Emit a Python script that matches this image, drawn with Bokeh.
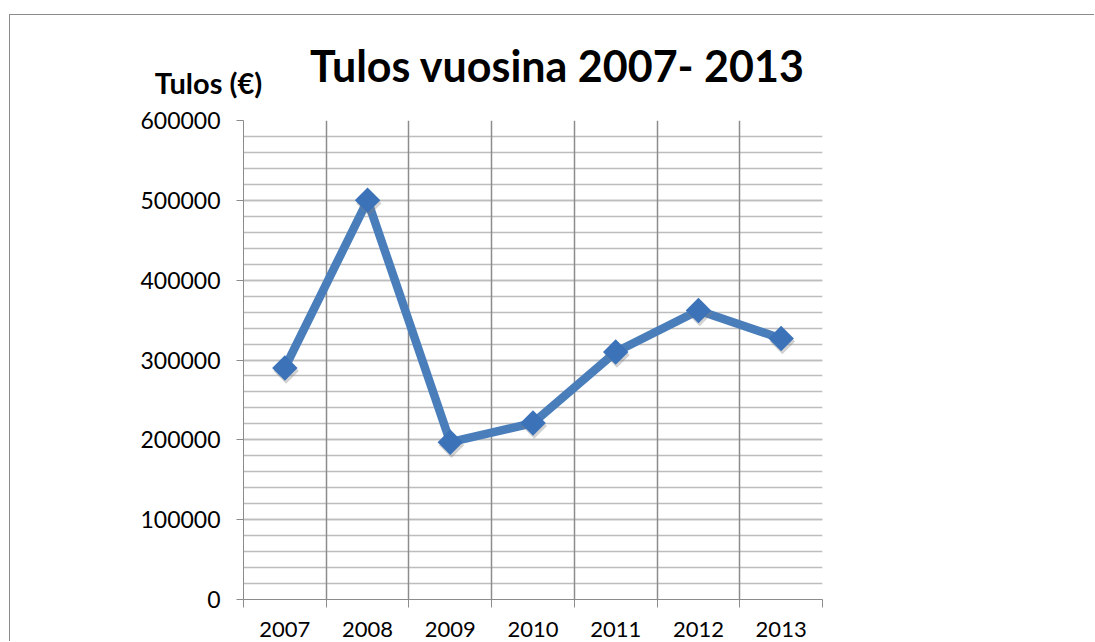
from bokeh.plotting import figure
from bokeh.models import (FixedTicker, Grid, Label, ColumnDataSource, Range1d, InlineStyleSheet)
from bokeh.transform import dodge
from bokeh.embed import file_html
from bokeh.resources import INLINE
import math

years = ["2007", "2008", "2009", "2010", "2011", "2012", "2013"]
tulos = [290000, 500000, 197000, 221000, 310000, 362000, 327000]
y_ticks = [0, 100000, 200000, 300000, 400000, 500000, 600000]
y_minor = list(range(0, 600001, 20000))
title_text = "Tulos vuosina 2007- 2013"
y_title = "Tulos (€)"

FONT = "Lato"
xs = [i + 0.5 for i in range(len(years))]
src = ColumnDataSource(dict(x=xs, y=tulos))

p = figure(width=1095, height=642, output_backend="svg", toolbar_location=None,
           x_range=Range1d(0, len(years)), y_range=Range1d(0, 600000),
           min_border_left=243, min_border_right=273, min_border_top=120, min_border_bottom=43)
p.outline_line_color = None
p.background_fill_color = "white"
p.border_fill_color = "white"

xt = FixedTicker(ticks=xs, minor_ticks=list(range(len(years) + 1)))
p.xaxis.ticker = xt
p.xaxis.major_label_overrides = {x: y for x, y in zip(xs, years)}
p.xaxis.major_tick_line_color = None
p.xaxis.major_tick_out = 0
p.xaxis.major_tick_in = 0
p.xaxis.minor_tick_out = 8
p.xaxis.minor_tick_in = 0
p.xaxis.minor_tick_line_color = "#8c8c8c"
p.xaxis.axis_line_color = "#8c8c8c"
p.xaxis.major_label_standoff = 14
p.xaxis.major_label_text_font = FONT
p.xaxis.major_label_text_font_size = "22px"
p.xaxis.major_label_text_color = "black"

p.yaxis.ticker = FixedTicker(ticks=y_ticks, minor_ticks=y_minor)
p.yaxis.major_tick_out = 7
p.yaxis.major_tick_in = 0
p.yaxis.minor_tick_out = 0
p.yaxis.minor_tick_in = 0
p.yaxis.major_tick_line_color = "#8c8c8c"
p.yaxis.axis_line_color = "#8c8c8c"
p.yaxis.major_label_standoff = 16
p.yaxis.major_label_text_font = FONT
p.yaxis.major_label_text_font_size = "23px"
p.yaxis.major_label_text_color = "black"
p.yaxis.formatter.use_scientific = False

p.xgrid.grid_line_color = None
p.ygrid.grid_line_color = "#bdbdbd"
p.ygrid.minor_grid_line_color = "#bdbdbd"
p.ygrid.grid_line_width = 1.5
p.ygrid.minor_grid_line_width = 1.5
vgrid = Grid(dimension=0, ticker=FixedTicker(ticks=list(range(len(years) + 1))),
             grid_line_color="#8c8c8c", grid_line_width=1.5)
p.add_layout(vgrid)

p.line("x", "y", source=src, line_color="#4a7ebb", line_width=8.5)
p.scatter(dodge("x", 0.015), dodge("y", -3800), source=src, marker="square", angle=math.pi / 4, size=18,
          fill_color="#7f7f7f", fill_alpha=0.35, line_color=None)
p.scatter("x", "y", source=src, marker="square", angle=math.pi / 4, size=18,
          fill_color="#3c72b8", line_color=None)

# titles as labels placed in the top side panel (side-panel annotations are not clipped to the frame)
p.add_layout(Label(x=3.796, y=600000, y_offset=55, text=title_text, text_align="center",
                   text_baseline="alphabetic", text_font=FONT, text_font_style="bold",
                   text_font_size="43px", text_color="black"), "above")
p.add_layout(Label(x=-0.423, y=600000, y_offset=38, text=y_title, text_align="center",
                   text_baseline="alphabetic", text_font=FONT, text_font_style="bold",
                   text_font_size="29px", text_color="black"), "above")

p.stylesheets = [InlineStyleSheet(css="""
:host { position: relative; }
:host::after { content: ""; position: absolute; left: 9px; top: 14px; width: 1084px; height: 626px;
  border-top: 1.5px solid #8c8c8c; border-left: 1.5px solid #8c8c8c; pointer-events: none; }
""")]

open("out.html", "w").write(file_html(p, INLINE))
